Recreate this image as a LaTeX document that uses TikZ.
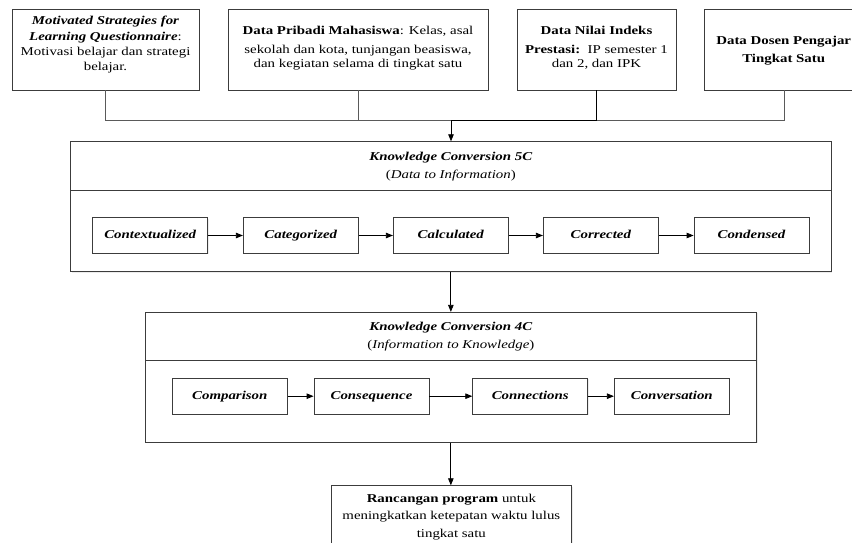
\documentclass[tikz,border=0pt]{standalone}
\usepackage{fontspec}
\setmainfont{Liberation Serif}[FakeStretch=1.24]
\usetikzlibrary{arrows.meta,shadows}
\definecolor{bordergray}{HTML}{3C3C3C}
\definecolor{linegray}{HTML}{5A5A5A}
\begin{document}
\begin{tikzpicture}[x=1pt,y=-1pt,
  font=\fontsize{12}{18}\selectfont,
  box/.style={draw=bordergray, line width=0.8pt, fill=white, inner sep=0pt,
    drop shadow={shadow xshift=1pt,shadow yshift=-1pt,opacity=0.15}},
  inbox/.style={box, minimum width=115pt, minimum height=35.6pt, text height=8.6pt, text depth=2.4pt,
    font=\fontsize{12}{18}\selectfont\bfseries\itshape},
  txt/.style={align=center, inner sep=0pt},
  tight/.style={txt, font=\fontsize{12}{15.3}\selectfont},
  conn/.style={draw=linegray, line width=0.8pt},
  arr/.style={draw=black, line width=0.8pt, -{Triangle[length=7pt,width=5.5pt]}}]
\useasboundingbox (0,0) rectangle (852,543);

% top data boxes
\node[box, minimum width=187pt, minimum height=81pt] (b1) at (105.5,49.5) {};
\node[box, minimum width=260pt, minimum height=81pt] (b2) at (358,49.5) {};
\node[box, minimum width=159pt, minimum height=81pt] (b3) at (596.5,49.5) {};
\node[box, minimum width=159.7pt, minimum height=81pt] (b4) at (784.15,49.5) {};

\node[tight] (t1) at (105.5,45) {\textbf{\textit{Motivated Strategies for}}\\
  \textbf{\textit{Learning Questionnaire}}:\\ Motivasi belajar dan strategi\\ belajar.};
\node[tight, font=\fontsize{12}{14.5}\selectfont] (t2) at (358,48) {\textbf{Data Pribadi Mahasiswa}: Kelas, asal\\[4.5pt]
  sekolah dan kota, tunjangan beasiswa,\\ dan kegiatan selama di tingkat satu};
\node[tight, font=\fontsize{12}{14.5}\selectfont] (t3) at (596.5,48) {\textbf{Data Nilai Indeks}\\[4.5pt]
  \textbf{Prestasi:}\ \ IP semester 1\\ dan 2, dan IPK};
\node[txt, font=\fontsize{12}{18.3}\selectfont\bfseries] (t4) at (783.7,50.8) {Data Dosen Pengajar\\ Tingkat Satu};

% junction
\coordinate (J) at (451,120.5);
\draw[conn] (b1.south) |- (b4.south |- J);
\draw[conn] (b4.south) -- (b4.south |- J);
\draw[conn] (b2.south) -- (b2.south |- J);

% Knowledge Conversion 5C
\node[box, minimum width=760.3pt, minimum height=49pt, align=center] (k5t) at (450.85,166.2)
  {\textbf{\textit{Knowledge Conversion 5C}}\\ (\textit{Data to Information})};
\node[box, minimum width=760.3pt, minimum height=81pt] (k5b) at (450.85,231.2) {};
\draw[arr] (b3.south) |- (J) -- (J |- k5t.north);

\node[inbox] (c1) at (150.2,235.5) {Contextualized};
\node[inbox] (c2) at (300.8,235.5) {Categorized};
\node[inbox] (c3) at (450.8,235.5) {Calculated};
\node[inbox] (c4) at (600.8,235.5) {Corrected};
\node[inbox] (c5) at (751.5,235.5) {Condensed};
\draw[arr] (c1) -- (c2);
\draw[arr] (c2) -- (c3);
\draw[arr] (c3) -- (c4);
\draw[arr] (c4) -- (c5);

% Knowledge Conversion 4C
\node[box, minimum width=611.7pt, minimum height=48.4pt, align=center] (k4t) at (450.85,336.5)
  {\textbf{\textit{Knowledge Conversion 4C}}\\ (\textit{Information to Knowledge})};
\node[box, minimum width=611.7pt, minimum height=81.6pt] (k4b) at (450.85,401.5) {};
\draw[arr] (k5b.south) -- (k5b.south |- k4t.north);

\node[inbox, minimum height=35.7pt] (d1) at (229.8,396.2) {Comparison};
\node[inbox, minimum height=35.7pt] (d2) at (371.5,396.2) {Consequence};
\node[inbox, minimum height=35.7pt] (d3) at (530.2,396.2) {Connections};
\node[inbox, minimum height=35.7pt] (d4) at (671.8,396.2) {Conversation};
\draw[arr] (d1) -- (d2);
\draw[arr] (d2) -- (d3);
\draw[arr] (d3) -- (d4);

% result box
\node[box, minimum width=240.7pt, minimum height=74.3pt] (rp) at (451.35,522.85) {};
\node[txt, font=\fontsize{12}{17.8}\selectfont] (rt) at (451.35,517)
  {\textbf{Rancangan program} untuk\\ meningkatkan ketepatan waktu lulus\\ tingkat satu};
\draw[arr] (k4b.south) -- (k4b.south |- rp.north);
\end{tikzpicture}
\end{document}
